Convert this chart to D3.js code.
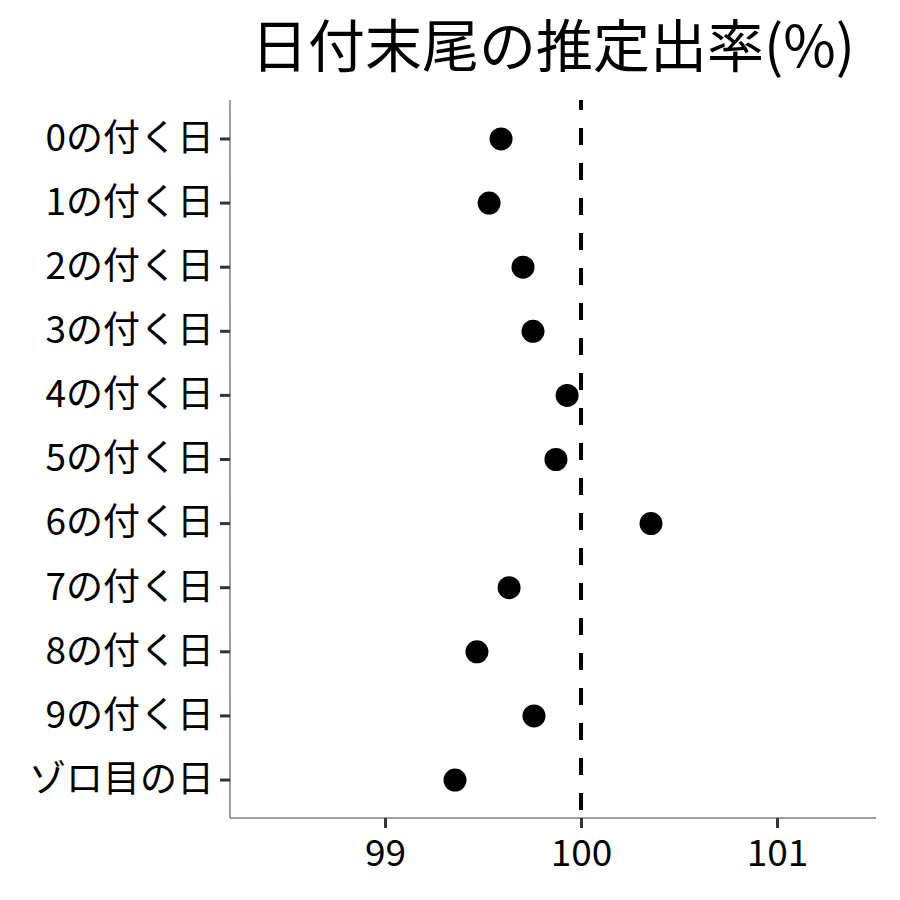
<!DOCTYPE html>
<html><head><meta charset="utf-8">
<script src="https://cdn.jsdelivr.net/npm/d3@7"></script>
<style>body{margin:0;background:#fff}svg{display:block}</style>
</head><body><svg id="c" width="900" height="900"></svg>
<script>
const categories = ["0の付く日","1の付く日","2の付く日","3の付く日","4の付く日","5の付く日","6の付く日","7の付く日","8の付く日","9の付く日","ゾロ目の日"];
const values = [99.592, 99.531, 99.704, 99.755, 99.929, 99.872, 100.357, 99.633, 99.469, 99.760, 99.357];
const xTicks = [99, 100, 101];
const refValue = 100;
const title = "日付末尾の推定出率(%)";

const font = "'Noto Sans CJK JP', 'Noto Sans', sans-serif";
const svg = d3.select("#c");
const L = 230, R = 876, T = 100, B = 818;

const x = d3.scaleLinear().domain([98.209, 101.505]).range([L, R]);
const y = d3.scalePoint().domain(categories).range([T, B]).padding(0.6);

svg.append("text").attr("x", (L + R) / 2).attr("y", 67)
  .attr("text-anchor", "middle").attr("font-family", font).attr("font-size", 57)
  .attr("fill", "#000").text(title);

// reference line
svg.append("line").attr("x1", x(refValue)).attr("x2", x(refValue))
  .attr("y1", T).attr("y2", B).attr("stroke", "#000").attr("stroke-width", 4)
  .attr("stroke-dasharray", "17,18").attr("stroke-dashoffset", 7);

// points
svg.append("g").selectAll("circle").data(values).join("circle")
  .attr("cx", d => x(d)).attr("cy", (d, i) => y(categories[i]) + 0.5).attr("r", 11.5).attr("fill", "#000");

// axes
const yAxis = svg.append("g").attr("transform", `translate(${L},0)`)
  .call(d3.axisLeft(y).tickSize(10).tickPadding(6));
const xAxis = svg.append("g").attr("transform", `translate(0,${B})`)
  .call(d3.axisBottom(x).tickValues(xTicks).tickSize(10).tickPadding(12).tickFormat(d3.format("d")));
[yAxis, xAxis].forEach(g => {
  g.select(".domain").attr("stroke", "#7f7f7f").attr("stroke-width", 1.5);
  g.selectAll(".tick line").attr("stroke", "#333").attr("stroke-width", 3);
  g.selectAll(".tick text").attr("fill", "#000").attr("font-family", font).attr("font-size", 37);
});
xAxis.select(".domain").attr("d", `M${L},0H${R}`);
yAxis.select(".domain").attr("d", `M0,${T}V${B}`);
</script></body></html>
